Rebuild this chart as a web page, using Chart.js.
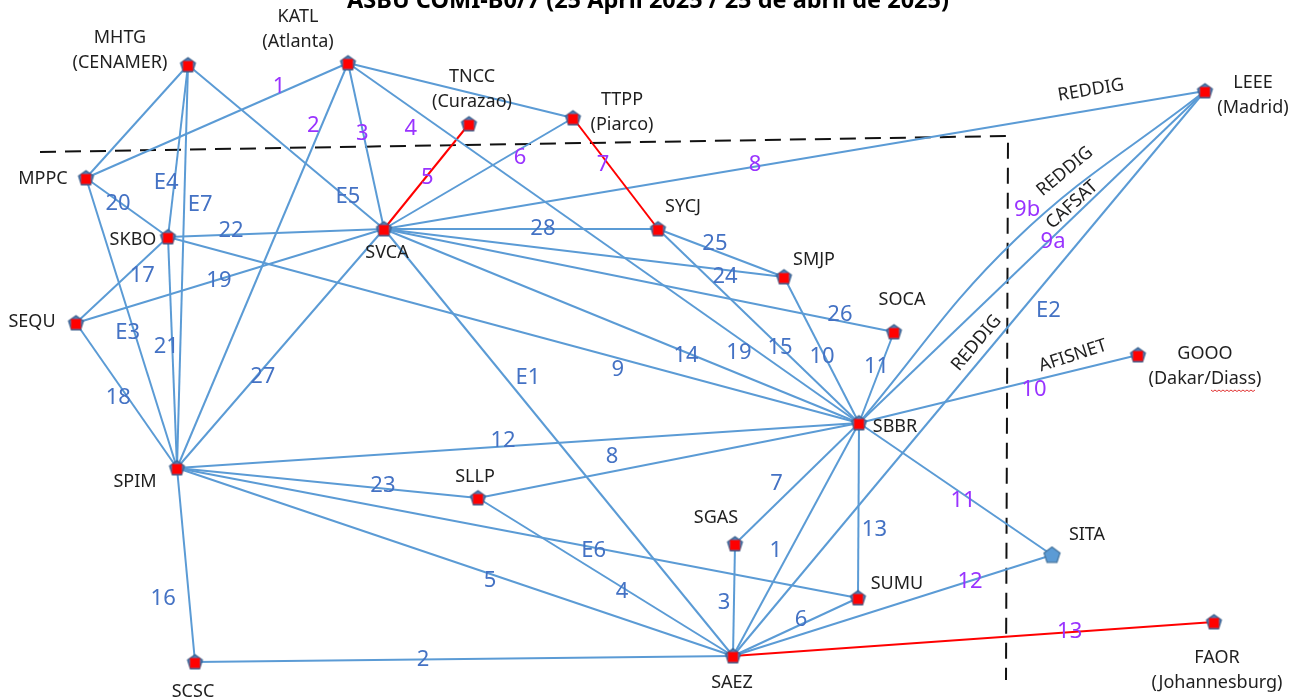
<!DOCTYPE html>
<html>
<head>
<meta charset="utf-8">
<script src="https://cdn.jsdelivr.net/npm/chart.js@4.4.1/dist/chart.umd.min.js"></script>
<style>
  html, body { margin: 0; padding: 0; background: #fff; }
  #c { display: block; }
</style>
</head>
<body>
<canvas id="c" width="1301" height="700"></canvas>
<script>
const title = "ASBU COMI-B0/7 (25 April 2025 / 25 de abril de 2025)"

// stations, placed in picture coordinates (x right, y down)
const stations = ["MHTG", "KATL", "TNCC", "TTPP", "LEEE", "MPPC", "SKBO", "SVCA", "SYCJ", "SMJP", "SOCA",
  "SEQU", "GOOO", "SBBR", "SPIM", "SLLP", "SGAS", "SITA", "SUMU", "FAOR", "SCSC", "SAEZ"]
const stationX = [188, 348, 469, 573, 1205, 86, 168, 384, 658, 784, 894, 76, 1138, 859, 177, 478, 735, 1052, 858, 1214, 195, 733]
const stationY = [65, 63, 124, 118, 91, 178, 237, 229, 229, 277, 332, 323, 355, 423, 468, 498, 544, 555, 598, 622, 662, 656]
const stationCity = {
  MHTG: "(CENAMER)", KATL: "(Atlanta)", TNCC: "(Curazao)", TTPP: "(Piarco)", LEEE: "(Madrid)",
  GOOO: "(Dakar/Diass)", FAOR: "(Johannesburg)"
}
const serviceOnly = ["SITA"]

// circuits: from, to
const links = [
  ["MHTG", "MPPC"], ["MHTG", "SKBO"], ["MHTG", "SPIM"], ["MHTG", "SVCA"],
  ["KATL", "MPPC"], ["KATL", "SPIM"], ["KATL", "SVCA"], ["KATL", "SBBR"], ["KATL", "TTPP"],
  ["TNCC", "SVCA"], ["TTPP", "SVCA"], ["TTPP", "SYCJ"], ["SVCA", "LEEE"],
  ["MPPC", "SKBO"], ["MPPC", "SPIM"], ["SKBO", "SVCA"], ["SKBO", "SEQU"], ["SKBO", "SPIM"], ["SKBO", "SBBR"],
  ["SEQU", "SVCA"], ["SEQU", "SPIM"], ["SVCA", "SPIM"], ["SVCA", "SYCJ"], ["SVCA", "SMJP"], ["SVCA", "SOCA"],
  ["SVCA", "SBBR"], ["SVCA", "SAEZ"], ["SYCJ", "SMJP"], ["SYCJ", "SBBR"], ["SMJP", "SBBR"], ["SOCA", "SBBR"],
  ["SBBR", "LEEE"], ["SBBR", "LEEE"], ["SBBR", "GOOO"], ["SBBR", "SITA"],
  ["SPIM", "SBBR"], ["SPIM", "SLLP"], ["SPIM", "SUMU"], ["SPIM", "SAEZ"], ["SPIM", "SCSC"],
  ["SLLP", "SBBR"], ["SLLP", "SAEZ"], ["SGAS", "SBBR"], ["SGAS", "SAEZ"], ["SAEZ", "SBBR"], ["SBBR", "SUMU"],
  ["SUMU", "SAEZ"], ["SAEZ", "LEEE"], ["SAEZ", "SITA"], ["SAEZ", "FAOR"], ["SCSC", "SAEZ"]
]
// r = not implemented (red), b = operational
const linkStatus = ["b", "b", "b", "b", "b", "b", "b", "b", "b", "r", "b", "r", "b",
  "b", "b", "b", "b", "b", "b", "b", "b", "b", "b", "b", "b", "b", "b", "b", "b", "b", "b",
  "b", "b", "b", "b", "b", "b", "b", "b", "b", "b", "b", "b", "b", "b", "b", "b", "b", "b", "r", "b"]
// tags per circuit: [text, kind]  p = inter-regional, b = regional, k = network
const linkTags = [
  [], [["E4", "b"]], [["E7", "b"]], [["E5", "b"]],
  [["1", "p"]], [["2", "p"]], [["3", "p"]], [["4", "p"], ["19", "b"]], [],
  [["5", "p"]], [["6", "p"]], [["7", "p"]], [["8", "p"], ["REDDIG", "k"]],
  [["20", "b"]], [["E3", "b"]], [["22", "b"]], [["17", "b"]], [["21", "b"]], [["9", "b"]],
  [["19", "b"]], [["18", "b"]], [["27", "b"]], [["28", "b"]], [["24", "b"]], [["26", "b"]],
  [["14", "b"]], [["E1", "b"]], [["25", "b"]], [["15", "b"]], [["10", "b"]], [["11", "b"]],
  [["9b", "p"], ["REDDIG", "k"]], [["9a", "p"], ["CAFSAT", "k"]], [["10", "p"], ["AFISNET", "k"]], [["11", "p"]],
  [["12", "b"]], [["23", "b"]], [["E6", "b"]], [["5", "b"]], [["16", "b"]],
  [["8", "b"]], [["4", "b"]], [["7", "b"]], [["3", "b"]], [["1", "b"]], [["13", "b"]],
  [["6", "b"]], [["E2", "b"], ["REDDIG", "k"]], [["12", "p"]], [["13", "p"]], [["2", "b"]]
]
// dashed region boundary
const boundaryX = [40, 1008, 1006]
const boundaryY = [152, 136, 680]

// ---- layout (not data) ----
// where each tag sits: [fraction along the circuit, dx, dy, rotation deg]
const tagPlace = [
  [], [[0.686, -8, 0]], [[0.347, 16, 0]], [[0.816, 0, -2]],
  [[0.263, 0, -7]], [[0.156, -8, 0]], [[0.428, -1, 0]], [[0.123, 0, 21], [0.765, 0, 14]], [],
  [[0.514, 2, 0]], [[0.28, 0, 9]], [[0.423, -6, 0]], [[0.452, 0, -2], [0.861, 0, -20, -9.5]],
  [[0.39, 0, 3]], [[0.534, -7, 0]], [[0.292, 0, -4]], [[0.453, 16, 0]], [[0.476, -6, 0]], [[0.651, 0, 12]],
  [[0.464, 0, 1]], [[0.517, -10, 0]], [[0.619, 7, 0]], [[0.58, 0, 0]], [[0.8525, 0, 7]], [[0.894, 0, -6]],
  [[0.636, 0, 3]], [[0.349, 22, 0]], [[0.452, 0, -7]], [[0.607, 0, 1]], [[0.548, -3, 0]], [[0.385, -4, 0]],
  [[0.486, 0, -52], [0.595, 0, -54, -40]], [[0.558, 1, 4], [0.633, -6, -8, -42]], [[0.627, 0, 9], [0.767, 0, -15, -18]], [[0.539, 0, 7]],
  [[0.478, 0, -6]], [[0.684, 0, -3]], [[0.612, 0, 3]], [[0.563, 0, 7]], [[0.675, -26, 0]],
  [[0.352, 0, -15]], [[0.565, 0, 4]], [[0.496, -20, 0]], [[0.527, -10, 0]], [[0.451, -14, 0]], [[0.611, 16, 0]],
  [[0.456, 0, -5]], [[0.611, 27, 0], [0.554, -18, 0, -50]], [[0.743, 0, 1]], [[0.70, 0, 0]], [[0.424, 0, 0]]
]
const linkBow = { 31: 24 }
const stationLabelAt = {
  MHTG: [-68, -27], KATL: [-50, -46], TNCC: [3, -47], TTPP: [49, -18], LEEE: [48, -8], MPPC: [-43, 1],
  SKBO: [-35, 3], SVCA: [3, 24], SYCJ: [25, -22], SMJP: [30, -17], SOCA: [8, -32], SEQU: [-44, -1],
  GOOO: [67, -1], SBBR: [36, 4], SPIM: [-42, 14], SLLP: [-3, -21], SGAS: [-19, -26], SITA: [35, -20],
  SUMU: [39, -14], FAOR: [3, 36], SCSC: [-2, 30], SAEZ: [-1, 27]
}
const tagColors = { p: "#9933FF", b: "#4472C4", k: "#1f1f1f" }
const FONT = "'Noto Sans', 'DejaVu Sans', sans-serif"

const pos = name => {
  const i = stations.indexOf(name)
  return { x: stationX[i], y: stationY[i] }
}

function marker(service) {
  const c = document.createElement("canvas")
  c.width = 19
  c.height = 19
  const g = c.getContext("2d")
  const r = service ? 8.4 : 7.8
  g.beginPath()
  for (let k = 0; k < 5; k++) {
    const a = -Math.PI / 2 + k * 2 * Math.PI / 5
    g.lineTo(9.5 + r * Math.cos(a), 10 + r * Math.sin(a))
  }
  g.closePath()
  g.fillStyle = service ? "#5B9BD5" : "#4F81BD"
  g.fill()
  g.lineWidth = 1.2
  g.strokeStyle = service ? "#41719C" : "#385D8A"
  g.stroke()
  if (!service) {
    g.fillStyle = "#FF0000"
    g.fillRect(4.5, 5.5, 10, 10)
  }
  return c
}
const nodeIcon = marker(false)
const serviceIcon = marker(true)

const linkDatasets = links.map(([a, b], i) => {
  const p = pos(a), q = pos(b)
  let pts = [p, q]
  if (linkBow[i]) {
    const dx = q.x - p.x, dy = q.y - p.y, len = Math.hypot(dx, dy)
    const m = { x: (p.x + q.x) / 2 + dy / len * linkBow[i], y: (p.y + q.y) / 2 - dx / len * linkBow[i] }
    pts = [p, m, q]
  }
  return {
    data: pts,
    showLine: true,
    borderColor: linkStatus[i] === "r" ? "#FF0000" : "#5B9BD5",
    borderWidth: 2,
    pointRadius: 0,
    tension: linkBow[i] ? 0.4 : 0,
    order: 2
  }
})

const annotate = {
  id: "annotate",
  afterDatasetsDraw(chart) {
    const { ctx, scales: { x, y } } = chart
    ctx.save()
    ctx.textAlign = "center"
    ctx.textBaseline = "middle"

    links.forEach(([a, b], i) => {
      const p = pos(a), q = pos(b)
      linkTags[i].forEach(([text, kind], j) => {
        const [t, dx, dy, rot] = tagPlace[i][j]
        const px = x.getPixelForValue(p.x + (q.x - p.x) * t) + dx
        const py = y.getPixelForValue(p.y + (q.y - p.y) * t) + dy
        ctx.fillStyle = tagColors[kind]
        ctx.font = (kind === "k" ? "18px " : "22px ") + FONT
        ctx.save()
        ctx.translate(px, py)
        if (rot) ctx.rotate(rot * Math.PI / 180)
        ctx.fillText(text, 0, 0)
        ctx.restore()
      })
    })

    ctx.fillStyle = "#1f1f1f"
    ctx.font = "18px " + FONT
    stations.forEach((s, i) => {
      const [dx, dy] = stationLabelAt[s]
      const px = x.getPixelForValue(stationX[i]) + dx
      const py = y.getPixelForValue(stationY[i]) + dy
      ctx.fillText(s, px, py)
      if (stationCity[s]) ctx.fillText(stationCity[s], px, py + 25)
    })

    // spell-check squiggle under "Diass"
    const g = stations.indexOf("GOOO")
    const gx = x.getPixelForValue(stationX[g]) + stationLabelAt.GOOO[0]
    const gy = y.getPixelForValue(stationY[g]) + stationLabelAt.GOOO[1] + 25
    const full = ctx.measureText("(Dakar/Diass)").width
    const head = ctx.measureText("(Dakar/").width
    const tail = ctx.measureText(")").width
    ctx.strokeStyle = "#e03030"
    ctx.lineWidth = 1
    ctx.beginPath()
    const x0 = gx - full / 2 + head, x1 = gx + full / 2 - tail
    for (let xx = x0, k = 0; xx <= x1; xx += 2, k++) ctx.lineTo(xx, gy + 11 + (k % 2 ? 1.5 : 0))
    ctx.stroke()

    ctx.fillStyle = "#000"
    ctx.font = "bold 23.5px " + FONT
    ctx.textBaseline = "alphabetic"
    ctx.fillText(title, 648, 8)
    ctx.restore()
  }
}

new Chart(document.getElementById("c"), {
  type: "scatter",
  data: {
    datasets: [
      {
        data: stations.map((s, i) => ({ x: stationX[i], y: stationY[i] })),
        pointStyle: stations.map(s => serviceOnly.includes(s) ? serviceIcon : nodeIcon),
        pointRadius: 8,
        order: 0
      },
      ...linkDatasets,
      {
        data: boundaryX.map((v, i) => ({ x: v, y: boundaryY[i] })),
        showLine: true,
        borderColor: "#111",
        borderWidth: 2,
        borderDash: [16, 9],
        pointRadius: 0,
        order: 3
      }
    ]
  },
  options: {
    responsive: false,
    animation: false,
    devicePixelRatio: 1,
    layout: { padding: 0, autoPadding: false },
    scales: {
      x: { type: "linear", min: 0, max: 1301, display: false },
      y: { type: "linear", min: 0, max: 700, reverse: true, display: false }
    },
    plugins: {
      legend: { display: false },
      tooltip: { enabled: false }
    }
  },
  plugins: [annotate]
})
</script>
</body>
</html>
